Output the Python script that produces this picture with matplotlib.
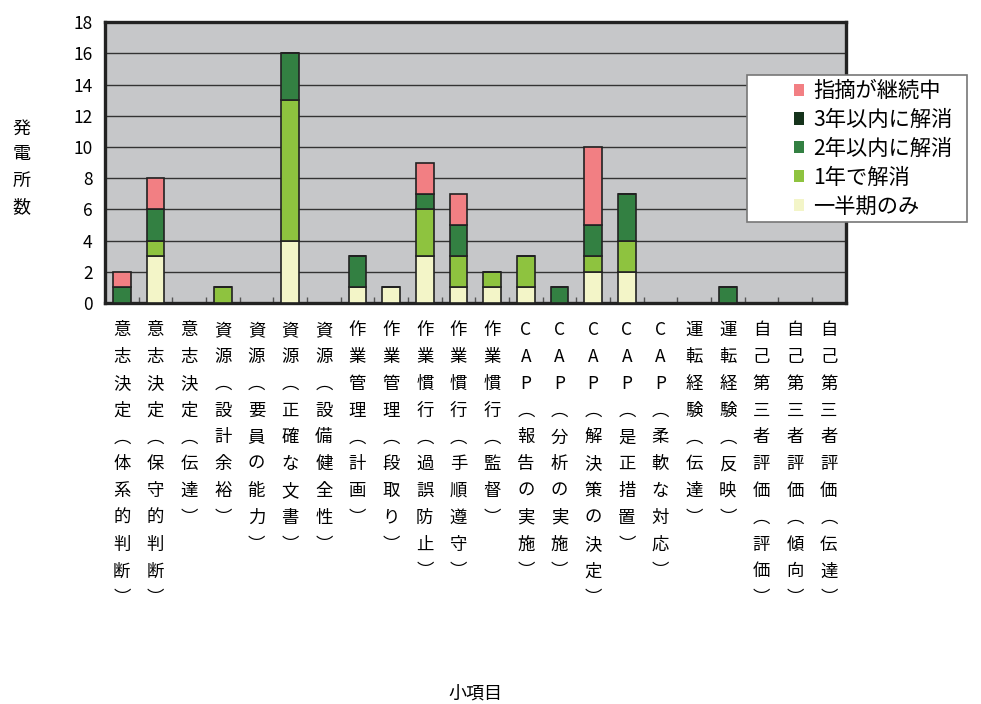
import numpy as np
import matplotlib.pyplot as plt
import matplotlib.patches as mpatches

plt.rcParams['font.family'] = ['Noto Sans CJK JP', 'DejaVu Sans']

categories = [
    '意志決定（体系的判断）', '意志決定（保守的判断）', '意志決定（伝達）',
    '資源（設計余裕）', '資源（要員の能力）', '資源（正確な文書）', '資源（設備健全性）',
    '作業管理（計画）', '作業管理（段取り）',
    '作業慣行（過誤防止）', '作業慣行（手順遵守）', '作業慣行（監督）',
    'CAP（報告の実施）', 'CAP（分析の実施）', 'CAP（解決策の決定）',
    'CAP（是正措置）', 'CAP（柔軟な対応）',
    '運転経験（伝達）', '運転経験（反映）',
    '自己第三者評価（評価）', '自己第三者評価（傾向）', '自己第三者評価（伝達）',
]

# stacked from bottom to top
half_term   = [0, 3, 0, 0, 0, 4, 0, 1, 1, 3, 1, 1, 1, 0, 2, 2, 0, 0, 0, 0, 0, 0]
one_year    = [0, 1, 0, 1, 0, 9, 0, 0, 0, 3, 2, 1, 2, 0, 1, 2, 0, 0, 0, 0, 0, 0]
two_years   = [1, 2, 0, 0, 0, 3, 0, 2, 0, 1, 2, 0, 0, 1, 2, 3, 0, 0, 1, 0, 0, 0]
three_years = [0, 0, 0, 0, 0, 0, 0, 0, 0, 0, 0, 0, 0, 0, 0, 0, 0, 0, 0, 0, 0, 0]
ongoing     = [1, 2, 0, 0, 0, 0, 0, 0, 0, 2, 2, 0, 0, 0, 5, 0, 0, 0, 0, 0, 0, 0]

series_names = ['一半期のみ', '1年で解消', '2年以内に解消', '3年以内に解消', '指摘が継続中']
colors = ['#F3F5C8', '#8EC33F', '#338042', '#15331B', '#F27F83']


def vertical(label):
    # one character per line, brackets as vertical forms
    label = label.replace('（', '︵').replace('）', '︶')
    return '\n'.join(label)


fig = plt.figure(figsize=(9.81, 7.04), dpi=100)
ax = fig.add_axes([0.107, 0.5696, 0.755, 0.399])
ax.set_facecolor('#C6C7C9')

x = np.arange(len(categories))
bottom = np.zeros(len(categories))
for vals, c in zip([half_term, one_year, two_years, three_years, ongoing], colors):
    vals = np.array(vals, dtype=float)
    ax.bar(x, vals, 0.52, bottom=bottom, color=c, edgecolor='#222222',
           linewidth=1.2, zorder=3)
    bottom += vals

ax.set_xlim(-0.5, len(categories) - 0.5)
ax.set_ylim(0, 18)
ax.set_yticks(range(0, 19, 2))
ax.yaxis.grid(True, color='#333333', linewidth=1.0)
ax.set_axisbelow(True)

ax.set_xticks(x)
ax.set_xticklabels([vertical(c) for c in categories], fontsize=12.5,
                   linespacing=1.63, va='top')
ax.set_xticks(np.arange(0.5, len(categories) - 1, 1), minor=True)
ax.tick_params(axis='x', which='major', length=0, pad=13)
ax.tick_params(axis='x', which='minor', direction='in', length=4,
               color='#555555', width=1)
ax.tick_params(axis='y', length=0, pad=9, labelsize=12.5)

for sp in ax.spines.values():
    sp.set_linewidth(2.4)
    sp.set_color('#222222')

fig.text(0.022, 0.762, '\n'.join('発電所数'), ha='center', va='center',
         fontsize=13, linespacing=1.58)
fig.text(0.4847, 0.0156, '小項目', ha='center', va='center', fontsize=13)

# legend box
fig.add_artist(mpatches.Rectangle((0.7615, 0.6847), 0.2243, 0.2088,
                                  transform=fig.transFigure, facecolor='white',
                                  edgecolor='#777777', linewidth=1.2, zorder=4))
handles = [mpatches.Patch(facecolor=c, edgecolor='none') for c in colors][::-1]
fig.legend(handles, series_names[::-1], loc='upper left',
           bbox_to_anchor=(0.809, 0.886), frameon=False, fontsize=15.3,
           handlelength=0.5, handleheight=0.5, handletextpad=0.42,
           labelspacing=0.32, borderpad=0, borderaxespad=0)

fig.savefig('out.png', dpi=100)
